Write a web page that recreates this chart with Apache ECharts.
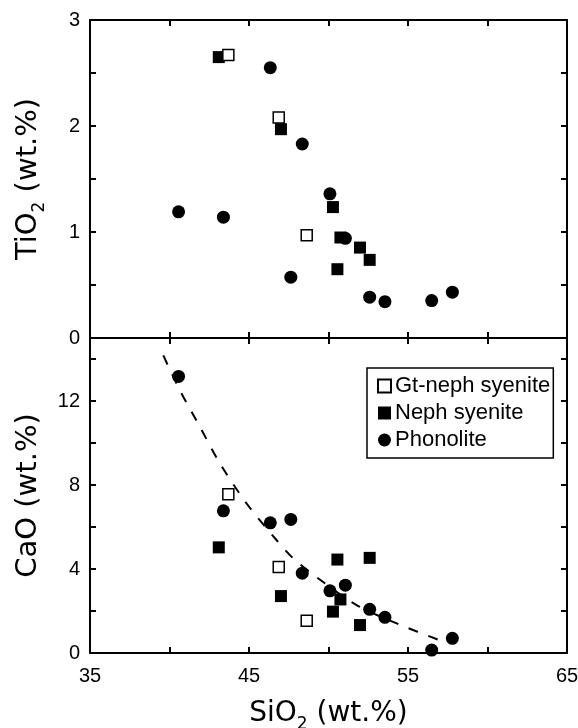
<!DOCTYPE html>
<html>
<head>
<meta charset="utf-8">
<script src="https://cdn.jsdelivr.net/npm/echarts@6/dist/echarts.min.js"></script>
<style>
  html, body { margin: 0; padding: 0; background: #fff; }
  #chart { width: 578px; height: 728px; }
</style>
</head>
<body>
<div id="chart"></div>
<script>
// Gt-neph syenite (open squares)
const gtSio2 = [43.7, 46.87, 48.63]
const gtTio2 = [2.67, 2.08, 0.97]
const gtCao = [7.56, 4.1, 1.54]

// Neph syenite (filled squares)
const nsSio2 = [43.1, 47.01, 50.28, 50.75, 51.98, 52.59, 50.56]
const nsTio2 = [2.65, 1.97, 1.235, 0.948, 0.853, 0.737, 0.649]
const nsCao = [5.03, 2.71, 1.97, 2.55, 1.33, 4.53, 4.45]

// Phonolite (circles)
const phSio2 = [40.57, 43.39, 46.34, 47.63, 48.35, 50.09, 51.06, 52.59, 53.55, 56.49, 57.79]
const phTio2 = [1.19, 1.14, 2.55, 0.574, 1.83, 1.36, 0.94, 0.385, 0.343, 0.353, 0.432]
const phCao = [13.17, 6.77, 6.2, 6.36, 3.8, 2.96, 3.23, 2.08, 1.7, 0.14, 0.7]

// dashed trend in CaO panel
const trendSio2 = [39.61, 40.66, 41.92, 43.18, 44.85, 46.74, 47.79, 49.36, 51.77, 54.29, 57.22]
const trendCao = [14.17, 12.5, 10.76, 9.02, 7.12, 5.37, 4.5, 3.55, 2.28, 1.41, 0.54]

const xLabels = [35, 45, 55, 65]
const tioLabels = [0, 1, 2, 3]
const caoLabels = [0, 4, 8, 12]

const FONT = 'Liberation Sans'
const NAME_FONT = 'DejaVu Sans'
const pairs = (xs, ys) => xs.map((x, i) => [x, ys[i]])

const line = { show: true, onZero: false, lineStyle: { color: '#000', width: 2 } }
const tick = { show: true, inside: true, length: 6, lineStyle: { color: '#000', width: 2 } }

const xAxisBase = (gridIndex, position, showLabel) => ({
  type: 'value',
  gridIndex: gridIndex,
  position: position,
  min: 35,
  max: 65,
  interval: 5,
  axisLine: line,
  axisTick: tick,
  splitLine: { show: false },
  axisLabel: {
    show: showLabel,
    margin: 13,
    color: '#000',
    fontFamily: FONT,
    fontSize: 20,
    formatter: (v) => (xLabels.includes(v) ? String(v) : '')
  }
})

const yAxisBase = (gridIndex, position, max, interval, labels) => ({
  type: 'value',
  gridIndex: gridIndex,
  position: position,
  min: 0,
  max: max,
  interval: interval,
  axisLine: line,
  axisTick: tick,
  splitLine: { show: false },
  axisLabel: {
    show: labels != null,
    margin: 10,
    color: '#000',
    fontFamily: FONT,
    fontSize: 20,
    formatter: (v) => (labels && labels.includes(v) ? String(v) : '')
  }
})

const nameRich = (size) => ({
  a: { fontFamily: NAME_FONT, fontSize: size, color: '#000', lineHeight: size + 6 },
  s: { fontFamily: NAME_FONT, fontSize: Math.round(size * 0.6), color: '#000', verticalAlign: 'bottom', lineHeight: size + 6, padding: [0, 0, -2, 0] }
})

const open = { color: '#fff', borderColor: '#000', borderWidth: 1.5, opacity: 1 }
const filled = { color: '#000', opacity: 1 }

const chart = echarts.init(document.getElementById('chart'), null, { renderer: 'canvas' })

chart.setOption({
  animation: false,
  backgroundColor: '#fff',
  grid: [
    { left: 90, right: 11, top: 20, height: 318, outerBoundsMode: 'none' },
    { left: 90, right: 11, top: 338, height: 315, outerBoundsMode: 'none' }
  ],
  legend: {
    orient: 'vertical',
    left: 367,
    top: 368,
    padding: [7, 3, 7, 10],
    itemGap: 5,
    itemWidth: 13,
    itemHeight: 13,
    borderColor: '#000',
    borderWidth: 1.5,
    textStyle: { fontFamily: FONT, fontSize: 22, color: '#000', padding: [0, 0, 0, -1] },
    data: ['Gt-neph syenite', 'Neph syenite', 'Phonolite']
  },
  xAxis: [
    xAxisBase(0, 'bottom', false),
    xAxisBase(0, 'top', false),
    Object.assign(xAxisBase(1, 'bottom', true), {
      name: '{a|SiO}{s|2}{a| (wt.%)}',
      nameLocation: 'middle',
      nameGap: 44,
      nameTextStyle: { rich: nameRich(28) }
    }),
    xAxisBase(1, 'top', false)
  ],
  yAxis: [
    Object.assign(yAxisBase(0, 'left', 3, 0.5, tioLabels), {
      name: '{a|TiO}{s|2}{a| (wt.%)}',
      nameLocation: 'middle',
      nameGap: 44,
      nameTextStyle: { rich: nameRich(29) }
    }),
    yAxisBase(0, 'right', 3, 0.5, null),
    Object.assign(yAxisBase(1, 'left', 15, 2, caoLabels), {
      name: '{a|CaO (wt.%)}',
      nameLocation: 'middle',
      nameGap: 44,
      nameTextStyle: { rich: nameRich(29) }
    }),
    yAxisBase(1, 'right', 15, 2, null)
  ],
  series: [
    {
      name: 'Trend',
      type: 'line',
      xAxisIndex: 2,
      yAxisIndex: 2,
      data: pairs(trendSio2, trendCao),
      smooth: 0.3,
      showSymbol: false,
      silent: true,
      lineStyle: { color: '#000', width: 2, type: [10, 11] },
      z: 1
    },
    {
      name: 'Gt-neph syenite', type: 'scatter', xAxisIndex: 0, yAxisIndex: 0,
      symbol: 'rect', symbolSize: 11, itemStyle: open, data: pairs(gtSio2, gtTio2), z: 3
    },
    {
      name: 'Neph syenite', type: 'scatter', xAxisIndex: 0, yAxisIndex: 0,
      symbol: 'rect', symbolSize: 12, itemStyle: filled, data: pairs(nsSio2, nsTio2), z: 2
    },
    {
      name: 'Phonolite', type: 'scatter', xAxisIndex: 0, yAxisIndex: 0,
      symbol: 'circle', symbolSize: 13, itemStyle: filled, data: pairs(phSio2, phTio2), z: 2
    },
    {
      name: 'Gt-neph syenite', type: 'scatter', xAxisIndex: 2, yAxisIndex: 2,
      symbol: 'rect', symbolSize: 11, itemStyle: open, data: pairs(gtSio2, gtCao), z: 3
    },
    {
      name: 'Neph syenite', type: 'scatter', xAxisIndex: 2, yAxisIndex: 2,
      symbol: 'rect', symbolSize: 12, itemStyle: filled, data: pairs(nsSio2, nsCao), z: 2
    },
    {
      name: 'Phonolite', type: 'scatter', xAxisIndex: 2, yAxisIndex: 2,
      symbol: 'circle', symbolSize: 13, itemStyle: filled, data: pairs(phSio2, phCao), z: 2
    }
  ]
})
</script>
</body>
</html>
